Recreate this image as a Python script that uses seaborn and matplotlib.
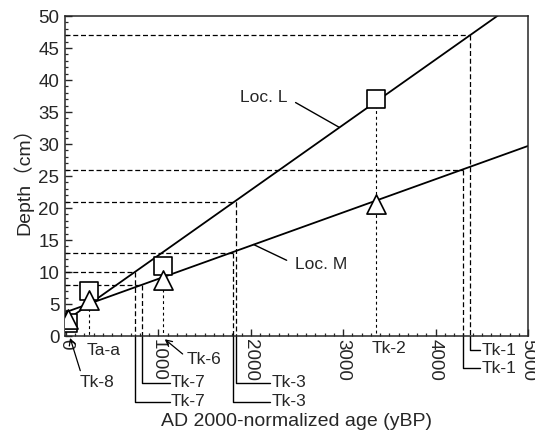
import numpy as np
import pandas as pd
import seaborn as sns
import matplotlib.pyplot as plt
from matplotlib.ticker import MultipleLocator

# measured tephra layers (age in yBP, depth in cm)
tephra_names = ["Tk-8", "Ta-a", "Tk-6", "Tk-2"]
tephra_age = [20, 250, 1050, 3350]
depth_L = [2.0, 7.0, 11.0, 37.0]
depth_M = [2.6, 5.6, 8.8, 20.7]

# fitted age-depth lines (end points)
fit_age = [0, 5000]
fit_L = [2.4, 53.4]
fit_M = [3.74, 29.7]

# tephra placed on the age-depth lines
model_names = ["Tk-7", "Tk-3", "Tk-1"]
model_age_L = [747, 1840, 4372]
model_depth_L = [10, 21, 47]
model_age_M = [819, 1804, 4297]
model_depth_M = [8, 13, 26]

sns.set_style("ticks")
plt.rcParams["font.family"] = ["Liberation Sans", "Noto Sans CJK JP", "DejaVu Sans"]
plt.rcParams["axes.linewidth"] = 1.1

fig = plt.figure(figsize=(5.35, 4.41), dpi=100)
ax = fig.add_axes([0.1215, 0.238, 0.8655, 0.7257])

dash = (0, (4, 2.2))
fine = (0, (2.6, 2.6))

# horizontal + vertical dashed guides for the modelled tephra
for ages, depths in [(model_age_L, model_depth_L), (model_age_M, model_depth_M)]:
    for a, d in zip(ages, depths):
        ax.plot([-10, a], [d, d], color="black", lw=0.9, ls=dash)
        ax.plot([a, a], [d, 0], color="black", lw=0.9, ls=dash)

# fine dashed drop lines for measured tephra
for a, dl, dm in zip(tephra_age[1:], depth_L[1:], depth_M[1:]):
    ax.plot([a, a], [max(dl, dm), 0], color="black", lw=0.8, ls=fine)

# fitted lines
lines = pd.DataFrame({"age": fit_age * 2, "depth": fit_L + fit_M,
                      "loc": ["L"] * 2 + ["M"] * 2})
sns.lineplot(data=lines, x="age", y="depth", units="loc", estimator=None,
             color="black", lw=1.3, ax=ax, legend=False)

# markers
sns.scatterplot(x=tephra_age, y=depth_L, marker="s", s=150, facecolor="white",
                edgecolor="black", linewidth=1.2, ax=ax, zorder=5)
sns.scatterplot(x=tephra_age, y=depth_M, marker="^", s=190, facecolor="white",
                edgecolor="black", linewidth=1.2, ax=ax, zorder=6)

ax.set_xlim(-10, 5000)
ax.set_ylim(0, 50)
ax.xaxis.set_major_locator(MultipleLocator(1000))
ax.xaxis.set_minor_locator(MultipleLocator(100))
ax.yaxis.set_major_locator(MultipleLocator(5))
ax.yaxis.set_minor_locator(MultipleLocator(1))
ax.tick_params(which="major", direction="in", length=5, width=1, labelsize=13.5, pad=4)
ax.tick_params(which="minor", direction="in", length=2.5, width=0.9)
ax.tick_params(axis="x", which="major", pad=2)
for lab in ax.get_xticklabels():
    lab.set_rotation(-90)
    lab.set_va("top")
    lab.set_ha("center")

ax.set_xlabel("AD 2000-normalized age (yBP)", fontsize=14, labelpad=23)
ax.set_ylabel("Depth（cm）", fontsize=14, labelpad=4)

# leader lines below the axis for modelled tephra
label_x = [1136, 2226, 4499]
levels = [(-10.3, -7.3), (-10.3, -7.3), (-5.0, -2.2)]
for name, aL, aM, lx, (low, high) in zip(model_names, model_age_L, model_age_M, label_x, levels):
    left, right = sorted([aL, aM])
    for a, y in [(left, low), (right, high)]:
        ax.plot([a, a, lx - 15], [0, y, y], color="black", lw=1.0, clip_on=False)
        ax.text(lx, y, name, fontsize=12.5, ha="left", va="center")

arrow = dict(arrowstyle="->,head_length=0.35,head_width=0.18", color="black", lw=0.9,
             shrinkA=1, shrinkB=0)

# labels of measured tephra
ax.annotate("Tk-8", xy=(45, -0.3), xytext=(152, -7.3), fontsize=12.5, ha="left", va="center",
            annotation_clip=False, arrowprops=dict(arrow, relpos=(0.05, 1)))
ax.text(224, -2.2, "Ta-a", fontsize=12.5, ha="left", va="center")
ax.annotate("Tk-6", xy=(1070, -0.5), xytext=(1310, -3.6), fontsize=12.5, ha="left", va="center",
            annotation_clip=False, arrowprops=dict(arrow, relpos=(0, 0.6)))
ax.text(3308, -2.0, "Tk-2", fontsize=12.5, ha="left", va="center")

# line labels
ax.annotate("Loc. L", xy=(2958, 32.6), xytext=(1883, 37.2), fontsize=12.5, ha="left", va="center",
            arrowprops=dict(arrowstyle="-", color="black", lw=1.0, relpos=(1, 0.5),
                            shrinkA=4, shrinkB=0))
ax.annotate("Loc. M", xy=(2030, 14.3), xytext=(2478, 11.1), fontsize=12.5, ha="left", va="center",
            arrowprops=dict(arrowstyle="-", color="black", lw=1.0, relpos=(0, 0.55),
                            shrinkA=4, shrinkB=0))

fig.savefig("out.png", dpi=100)
